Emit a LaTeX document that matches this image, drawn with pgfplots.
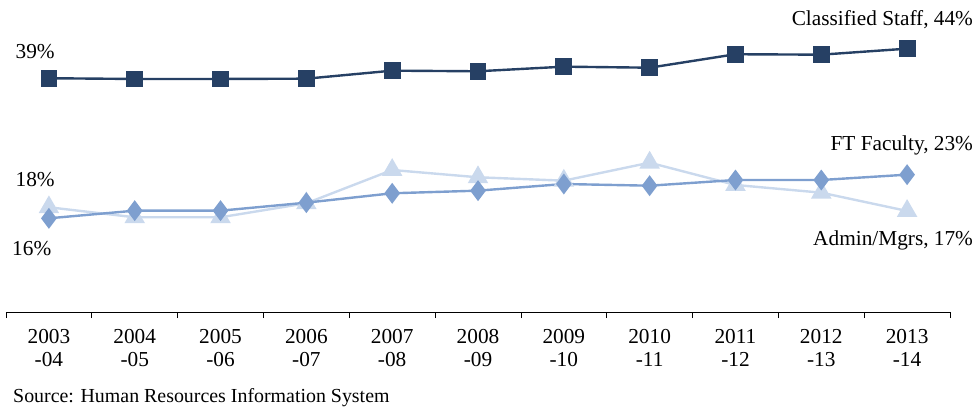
\documentclass[border=0pt]{standalone}
\usepackage{pgfplots}
\pgfplotsset{compat=1.18}
\usepackage{fontspec}
\setmainfont{Liberation Serif}
\definecolor{navy}{RGB}{38,64,100}
\definecolor{midblue}{RGB}{126,159,207}
\definecolor{lightblue}{RGB}{202,217,237}
\begin{document}
\fontsize{21.3}{24}\selectfont
\begin{tikzpicture}
\useasboundingbox (-6pt,-98pt) rectangle (971pt,312pt);
\begin{axis}[
  at={(0,0)}, anchor=south west,
  scale only axis, width=944pt, height=299.7pt,
  xmin=-0.5, xmax=10.5, ymin=0.55, ymax=50,
  axis y line=none, axis x line*=bottom,
  axis line style={black, line width=0.8pt},
  xtick={0,...,10},
  xticklabels={{2003\\-04},{2004\\-05},{2005\\-06},{2006\\-07},{2007\\-08},{2008\\-09},{2009\\-10},{2010\\-11},{2011\\-12},{2012\\-13},{2013\\-14}},
  x tick label style={align=center, font=\fontsize{21.3}{23.5}\selectfont, yshift=-10pt},
  minor xtick={-0.5,0.5,...,10.5},
  major tick length=0pt, minor tick length=6pt,
  xtick align=outside,
  minor tick style={black, line width=0.8pt},
  clip=false,
]
\addplot[navy, line width=2.4pt, mark=square*, mark size=7.2pt, mark options={solid, fill=navy}] coordinates {
(0,39.12) (1,39.0) (2,39.0) (3,39.05) (4,40.37) (5,40.27) (6,41.03) (7,40.86) (8,43.08) (9,43.01) (10,44.0)};
\addplot[lightblue, line width=2.4pt, mark=triangle*, mark size=9.5pt, mark options={solid, fill=lightblue}] coordinates {
(0,17.83) (1,16.18) (2,16.18) (3,18.49) (4,23.98) (5,22.78) (6,22.22) (7,25.19) (8,21.51) (9,20.24) (10,17.22)};
\addplot[midblue, line width=2.4pt, mark=diamond*, mark size=8.5pt, mark options={solid, fill=midblue}] coordinates {
(0,16.01) (1,17.27) (2,17.27) (3,18.59) (4,20.14) (5,20.57) (6,21.67) (7,21.39) (8,22.33) (9,22.33) (10,23.21)};
\node[inner sep=0pt] at (axis cs:-0.16,43.6) {39\%};
\node[inner sep=0pt] at (axis cs:-0.16,22.33) {18\%};
\node[inner sep=0pt] at (axis cs:-0.2,11.1) {16\%};
\node[inner sep=0pt, anchor=east] at (axis cs:10.77,48.74) {Classified Staff, 44\%};
\node[inner sep=0pt, anchor=east] at (axis cs:10.77,28.1) {FT Faculty, 23\%};
\node[inner sep=0pt, anchor=east] at (axis cs:10.77,12.4) {Admin/Mgrs, 17\%};
\end{axis}
\node[inner sep=0pt, anchor=west, font=\fontsize{19.9}{22}\selectfont] at (7pt,-86pt) {Source: Human Resources Information System};
\end{tikzpicture}
\end{document}
